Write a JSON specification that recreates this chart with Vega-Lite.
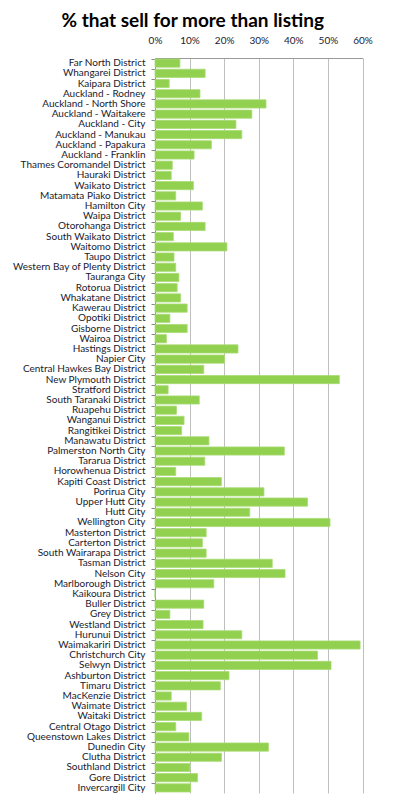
{
  "$schema": "https://vega.github.io/schema/vega-lite/v6.json",
  "autosize": "none",
  "width": 207.5,
  "height": 735,
  "padding": {"left": 155, "top": 58, "right": 35, "bottom": 8},
  "background": "white",
  "title": {
    "text": "% that sell for more than listing",
    "font": "Lato",
    "fontSize": 19,
    "fontWeight": "bold",
    "color": "#000000",
    "anchor": "middle",
    "dx": -66,
    "dy": 3,
    "offset": 7
  },
  "data": {
    "values": [
      {"d": "Far North District", "v": 0.072},
      {"d": "Whangarei District", "v": 0.145},
      {"d": "Kaipara District", "v": 0.041},
      {"d": "Auckland - Rodney", "v": 0.130},
      {"d": "Auckland - North Shore", "v": 0.321},
      {"d": "Auckland - Waitakere", "v": 0.280},
      {"d": "Auckland - City", "v": 0.234},
      {"d": "Auckland - Manukau", "v": 0.251},
      {"d": "Auckland - Papakura", "v": 0.163},
      {"d": "Auckland - Franklin", "v": 0.113},
      {"d": "Thames Coromandel District", "v": 0.050},
      {"d": "Hauraki District", "v": 0.047},
      {"d": "Waikato District", "v": 0.111},
      {"d": "Matamata  Piako District", "v": 0.060},
      {"d": "Hamilton City", "v": 0.137},
      {"d": "Waipa District", "v": 0.074},
      {"d": "Otorohanga District", "v": 0.145},
      {"d": "South Waikato District", "v": 0.053},
      {"d": "Waitomo District", "v": 0.208},
      {"d": "Taupo District", "v": 0.055},
      {"d": "Western Bay of Plenty District", "v": 0.060},
      {"d": "Tauranga City", "v": 0.069},
      {"d": "Rotorua District", "v": 0.064},
      {"d": "Whakatane District", "v": 0.074},
      {"d": "Kawerau District", "v": 0.093},
      {"d": "Opotiki District", "v": 0.043},
      {"d": "Gisborne District", "v": 0.093},
      {"d": "Wairoa District", "v": 0.033},
      {"d": "Hastings District", "v": 0.240},
      {"d": "Napier City", "v": 0.201},
      {"d": "Central Hawkes Bay District", "v": 0.141},
      {"d": "New Plymouth District", "v": 0.533},
      {"d": "Stratford District", "v": 0.038},
      {"d": "South Taranaki District", "v": 0.128},
      {"d": "Ruapehu District", "v": 0.062},
      {"d": "Wanganui District", "v": 0.084},
      {"d": "Rangitikei District", "v": 0.077},
      {"d": "Manawatu District", "v": 0.156},
      {"d": "Palmerston North City", "v": 0.374},
      {"d": "Tararua District", "v": 0.144},
      {"d": "Horowhenua District", "v": 0.060},
      {"d": "Kapiti Coast District", "v": 0.192},
      {"d": "Porirua City", "v": 0.315},
      {"d": "Upper Hutt City", "v": 0.441},
      {"d": "Hutt City", "v": 0.274},
      {"d": "Wellington City", "v": 0.506},
      {"d": "Masterton District", "v": 0.148},
      {"d": "Carterton District", "v": 0.137},
      {"d": "South Wairarapa District", "v": 0.148},
      {"d": "Tasman District", "v": 0.339},
      {"d": "Nelson City", "v": 0.376},
      {"d": "Marlborough District", "v": 0.170},
      {"d": "Kaikoura District", "v": 0.0},
      {"d": "Buller District", "v": 0.141},
      {"d": "Grey District", "v": 0.043},
      {"d": "Westland District", "v": 0.139},
      {"d": "Hurunui District", "v": 0.251},
      {"d": "Waimakariri District", "v": 0.593},
      {"d": "Christchurch City", "v": 0.470},
      {"d": "Selwyn District", "v": 0.509},
      {"d": "Ashburton District", "v": 0.214},
      {"d": "Timaru District", "v": 0.189},
      {"d": "MacKenzie District", "v": 0.047},
      {"d": "Waimate District", "v": 0.091},
      {"d": "Waitaki District", "v": 0.135},
      {"d": "Central Otago District", "v": 0.060},
      {"d": "Queenstown Lakes District", "v": 0.098},
      {"d": "Dunedin City", "v": 0.328},
      {"d": "Clutha District", "v": 0.192},
      {"d": "Southland District", "v": 0.101},
      {"d": "Gore District", "v": 0.123},
      {"d": "Invercargill City", "v": 0.103}
    ]
  },
  "mark": {"type": "bar", "color": "#92D050", "stroke": "#A8DC74", "strokeWidth": 0.8},
  "encoding": {
    "y": {
      "field": "d",
      "type": "nominal",
      "sort": null,
      "scale": {"paddingInner": 0.2, "paddingOuter": 0.1},
      "axis": {
        "title": null,
        "bandPosition": 0,
        "labelFont": "Lato",
        "labelFontSize": 10,
        "labelColor": "#1a1a2e",
        "labelPadding": 6,
        "tickSize": 4,
        "tickColor": "#888888",
        "domainColor": "#888888",
        "grid": false,
        "labelOverlap": false
      }
    },
    "x": {
      "field": "v",
      "type": "quantitative",
      "scale": {"domain": [0, 0.6], "nice": false},
      "axis": {
        "orient": "top",
        "title": null,
        "format": ".0%",
        "values": [0, 0.1, 0.2, 0.3, 0.4, 0.5, 0.6],
        "labelFont": "Lato",
        "labelFontSize": 10,
        "labelFlush": false,
        "labelColor": "#1a1a2e",
        "ticks": false,
        "labelPadding": 13,
        "domainColor": "#999999",
        "grid": true,
        "gridColor": "#BFBFBF",
        "gridWidth": 1
      }
    }
  },
  "config": {"view": {"stroke": null}}
}
